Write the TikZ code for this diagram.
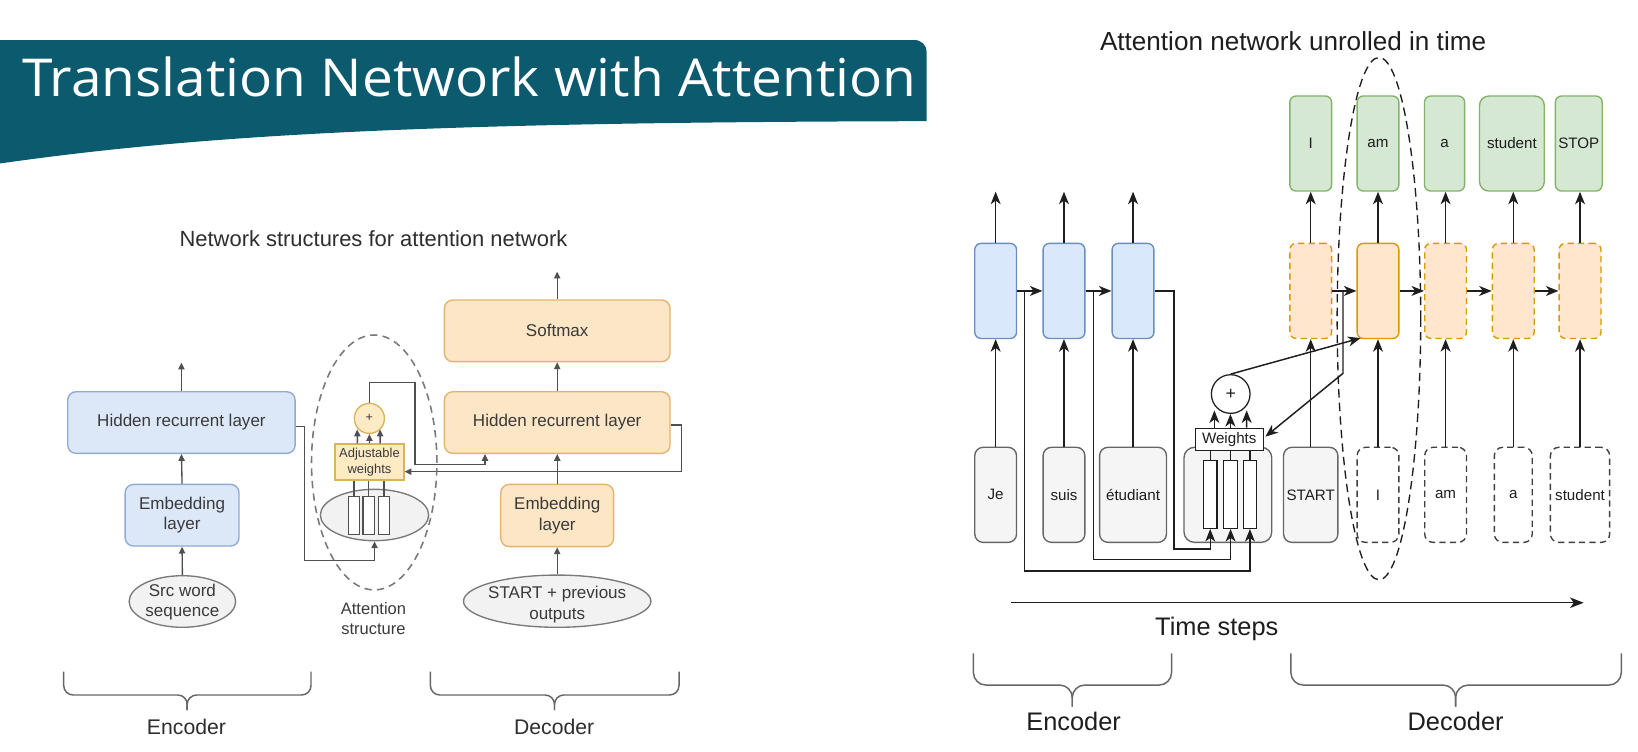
\documentclass[tikz,border=0pt]{standalone}
\usepackage{fontspec}
\usepackage{graphicx}
\setmainfont{Liberation Sans}
\newfontfamily\titlefont{Open Sans}
\usetikzlibrary{arrows.meta,shapes.geometric}
\definecolor{banner}{HTML}{0C5A6E}
\definecolor{ltext}{HTML}{3A3A3A}
\definecolor{lgray}{HTML}{505050}
\definecolor{rdark}{HTML}{1E1E1E}
\definecolor{lblueF}{HTML}{DCE8F8}
\definecolor{lblueD}{HTML}{90AAD2}
\definecolor{lorF}{HTML}{FCE6C6}
\definecolor{lorD}{HTML}{E2B46E}
\definecolor{ladjF}{HTML}{FDEBC4}
\definecolor{ladjD}{HTML}{D8B45E}
\definecolor{lellF}{HTML}{F2F2F2}
\definecolor{lellD}{HTML}{7A7A7A}
\definecolor{rblueF}{HTML}{DAE8FC}
\definecolor{rblueD}{HTML}{6C8EBF}
\definecolor{rorF}{HTML}{FFE6CC}
\definecolor{rorD}{HTML}{D79B00}
\definecolor{rgrF}{HTML}{D5E8D4}
\definecolor{rgrD}{HTML}{82B366}
\definecolor{rgrayF}{HTML}{F5F5F5}
\definecolor{rgrayD}{HTML}{666666}
\definecolor{bracecol}{HTML}{666666}
\newcommand{\lftfont}{\fontsize{16.3}{19.8}\selectfont}
\newcommand{\rgtfont}{\fontsize{14.5}{17}\selectfont}
\begin{document}
\begin{tikzpicture}[x=1pt,y=-1pt,
  lline/.style={draw=lgray, line width=1.3pt},
  larr/.style={lline, -{Triangle[length=6.5pt,width=6pt]}},
  rline/.style={draw=rdark, line width=1.4pt},
  rarr/.style={rline, -{Stealth[length=12pt,width=9.5pt,inset=3.5pt]}},
  lbox/.style={draw, rounded corners=8pt, line width=1.3pt, align=center, inner sep=0pt, text=ltext, font=\lftfont},
  lblue/.style={lbox, fill=lblueF, draw=lblueD},
  lorange/.style={lbox, fill=lorF, draw=lorD},
  lell/.style={ellipse, draw=lellD, fill=lellF, line width=1.3pt, inner sep=0pt},
  ltxt/.style={text=ltext, font=\lftfont, align=center, inner sep=0pt},
  lbrace/.style={draw=bracecol, line width=1.4pt, rounded corners=9pt},
  rbrace/.style={draw=bracecol, line width=1.4pt, rounded corners=12pt},
  rbox/.style={draw, rounded corners=6pt, line width=1.3pt, inner sep=0pt, minimum width=40pt, minimum height=91pt, text=rdark, font=\rgtfont},
  rblue/.style={rbox, fill=rblueF, draw=rblueD},
  rorange/.style={rbox, fill=rorF, draw=rorD},
  rorangedash/.style={rorange, dash pattern=on 6pt off 4pt},
  rgreen/.style={rbox, fill=rgrF, draw=rgrD},
  rinput/.style={rbox, rounded corners=8pt, fill=rgrayF, draw=rgrayD},
  rinputdash/.style={rbox, rounded corners=8pt, fill=white, draw=rdark!85, dash pattern=on 6pt off 4pt},
  rbar/.style={draw=rdark, fill=white, line width=1.2pt, minimum width=13pt, minimum height=64.8pt, inner sep=0pt},
  bigtxt/.style={text=rdark, font=\fontsize{24.3}{28}\selectfont, inner sep=0pt}
]
\useasboundingbox (0,0) rectangle (1568,719);
\fill[white] (0,0) rectangle (1568,719);

% ---------------- banner ----------------
\fill[banner] (0,38.3) -- (875,38.3) .. controls (882,38.3) and (887,43) .. (887,50)
  -- (887,116) .. controls (420,117) and (200,128) .. (0,156.5) -- cycle;
\node[anchor=base west, text=white, inner sep=0pt] (title) at (21,92.5)
  {\resizebox{856pt}{38pt}{\titlefont Translation Network with Attention}};

% ---------------- left diagram ----------------
\node[text=ltext!80!black, font=\fontsize{21}{25}\selectfont, anchor=base, inner sep=0pt] (ltitle) at (357.5,236.2) {Network structures for attention network};

% encoder
\node[lblue, minimum width=217.7pt, minimum height=59pt] (encH) at (173.7,404.5) {Hidden recurrent layer};
\node[lblue, minimum width=109pt, minimum height=59pt] (encE) at (174.3,493.2) {Embedding\\layer};
\node[lell, minimum width=102pt, minimum height=49.4pt] (encS) at (174.6,575.8) {};
\node[ltxt] (encSt) at (174.6,576.3) {Src word\\sequence};
\coordinate (encUp) at (173.7,347.2);
\draw[larr] (encS.north) -- (encE.south);
\draw[larr] (encE.north) -- (encH.south);
\draw[larr] (encH.north) -- (encUp);

% decoder
\node[lorange, minimum width=216pt, minimum height=59pt] (decS) at (533.4,316.7) {Softmax};
\node[lorange, minimum width=216pt, minimum height=59pt] (decH) at (533.4,404.5) {Hidden recurrent layer};
\node[lorange, minimum width=108pt, minimum height=59.6pt] (decE) at (533.4,493.5) {Embedding\\layer};
\node[lell, minimum width=179.4pt, minimum height=50pt] (decI) at (533.4,575.5) {};
\node[ltxt] (decIt) at (533.4,578.7) {START + previous\\outputs};
\coordinate (decUp) at (533.4,260);
\draw[larr] (decI.north) -- (decE.south);
\draw[larr] (decE.north) -- (decH.south);
\draw[larr] (decH.north) -- (decS.south);
\draw[larr] (decS.north) -- (decUp);

% attention structure
\node[lell, minimum width=103.7pt, minimum height=49.2pt] (attC) at (358.5,493) {};
\foreach \i/\x in {1/339,2/353,3/367.7}{
  \node[draw=lgray, fill=white, line width=1.1pt, minimum width=11pt, minimum height=36pt, inner sep=0pt] (lbar\i) at (\x,493.5) {};
}
\node[draw=ladjD, fill=ladjF, line width=1.3pt, minimum width=66pt, minimum height=34.5pt, inner sep=0pt, align=center, text=ltext, font=\fontsize{12.4}{15.3}\selectfont] (adj) at (353.7,442.3) {Adjustable\\weights};
\node[circle, draw=ladjD, fill=ladjF, line width=1.3pt, minimum size=28.8pt, inner sep=0pt, text=ltext, font=\fontsize{12}{14}\selectfont] (plus) at (353.6,400.5) {+};
\foreach \i in {1,2,3}{ \draw[lline] (lbar\i.north) -- (lbar\i.north |- adj.south); }
\draw[larr] ([xshift=-11.6pt]adj.north) -- ([xshift=-11.6pt,yshift=4.4pt]plus.south);
\draw[larr] (adj.north) -- (plus.south);
\draw[larr] ([xshift=10.2pt]adj.north) -- ([xshift=10.2pt,yshift=4.4pt]plus.south);

\coordinate (a1) at (291.3,408.5);
\coordinate (a2) at (291.3,536.7);
\coordinate (a3) at (358.5,536.7);
\draw[larr] ([yshift=-4pt]encH.east) -- (a1) -- (a2) -- (a3) -- (attC.south);

\coordinate (p1) at (353.6,366.3);
\coordinate (p2) at (397.3,366.3);
\coordinate (p3) at (397.3,444.5);
\coordinate (p4) at (464.3,444.5);
\draw[larr] (plus.north) -- (p1) -- (p2) -- (p3) -- (p4) -- (p4 |- decH.south);

\coordinate (q1) at (652.5,406.9);
\coordinate (q2) at (652.5,451.5);
\draw[larr] ([yshift=-2.4pt]decH.east) -- (q1) -- (q2) -- (q2 -| adj.east);

\node[draw=lellD, dash pattern=on 7pt off 5pt, line width=1.5pt, ellipse, minimum width=120pt, minimum height=244pt, inner sep=0pt] (attE) at (358.2,442.7) {};
\node[ltxt, font=\fontsize{15.8}{19}\selectfont] (attL) at (357.5,592) {Attention\\structure};

% left braces
\coordinate (lbE) at (179.2,679.7);
\draw[lbrace] (61,643) -- (61,665.3) -- (179.2,665.3) -- (lbE);
\draw[lbrace] (297.7,643) -- (297.7,665.3) -- (179.2,665.3) -- (lbE);
\node[text=ltext!80!black, font=\fontsize{20.3}{24}\selectfont, anchor=base, inner sep=0pt] (lEnc) at (178.5,702.7) {Encoder};
\coordinate (lbD) at (530.8,679.7);
\draw[lbrace] (412,643) -- (412,665.3) -- (530.8,665.3) -- (lbD);
\draw[lbrace] (650,643) -- (650,665.3) -- (530.8,665.3) -- (lbD);
\node[text=ltext!80!black, font=\fontsize{20.3}{24}\selectfont, anchor=base, inner sep=0pt] (lDec) at (530.5,702.7) {Decoder};

% ---------------- right diagram ----------------
\node[text=rdark, font=\fontsize{25}{29}\selectfont, anchor=base, inner sep=0pt] (rtitle) at (1237.8,47.9) {Attention network unrolled in time};

% encoder RNN boxes
\node[rblue] (eB1) at (953.1,278.5) {};
\node[rblue] (eB2) at (1018.5,278.5) {};
\node[rblue] (eB3) at (1084.6,278.5) {};
\coordinate (eU1) at (953.1,183.5);
\coordinate (eU2) at (1018.5,183.5);
\coordinate (eU3) at (1084.6,183.5);
\foreach \i in {1,2,3}{ \draw[rarr] (eB\i.north) -- (eU\i); }
\draw[rarr] (eB1.east) -- (eB2.west);
\draw[rarr] (eB2.east) -- (eB3.west);

% decoder RNN boxes
\node[rorangedash] (dB1) at (1254.7,278.5) {};
\node[rorange] (dB2) at (1319.1,278.5) {};
\node[rorangedash] (dB3) at (1383.8,278.5) {};
\node[rorangedash] (dB4) at (1448.6,278.5) {};
\node[rorangedash] (dB5) at (1512.5,278.5) {};
\draw[rarr] (dB1.east) -- (dB2.west);
\draw[rarr] (dB2.east) -- (dB3.west);
\draw[rarr] (dB3.east) -- (dB4.west);
\draw[rarr] (dB4.east) -- (dB5.west);

% outputs
\node[rgreen] (o1) at (1254.7,137.4) {I};
\node[rgreen] (o2) at (1319.1,137.4) {am};
\node[rgreen, minimum width=38.4pt] (o3) at (1382.8,137.4) {a};
\node[rgreen, minimum width=62pt, rounded corners=9pt] (o4) at (1447.3,137.4) {student};
\node[rgreen, minimum width=44.8pt] (o5) at (1511.3,137.4) {STOP};
\draw[rarr] (dB1.north) -- (o1.south);
\draw[rarr] (dB2.north) -- (o2.south);
\draw[rarr] (dB3.north) -- (dB3.north |- o3.south);
\draw[rarr] (dB4.north) -- (dB4.north |- o4.south);
\draw[rarr] (dB5.north) -- (dB5.north |- o5.south);

% inputs
\node[rinput] (iJe) at (953.1,473.7) {Je};
\node[rinput] (iSuis) at (1018.5,473.7) {suis};
\node[rinput, minimum width=64pt] (iEtu) at (1084.6,473.7) {étudiant};
\node[rinput, minimum width=84pt, rounded corners=10pt] (cW) at (1175.4,473.7) {};
\node[rinput, minimum width=52pt] (iStart) at (1254.7,473.7) {START};
\node[rinputdash] (iI) at (1319.1,473.7) {I};
\node[rinputdash] (iAm) at (1383.8,473.7) {am};
\node[rinputdash, minimum width=36.3pt] (iA) at (1448.6,473.7) {a};
\node[rinputdash, minimum width=56.7pt] (iStud) at (1512.5,473.7) {student};
\draw[rarr] (iJe.north) -- (eB1.south);
\draw[rarr] (iSuis.north) -- (eB2.south);
\draw[rarr] (iEtu.north) -- (eB3.south);
\draw[rarr] (iStart.north) -- (dB1.south);
\draw[rarr] (iI.north) -- (dB2.south);
\draw[rarr] (iAm.north) -- (dB3.south);
\draw[rarr] (iA.north) -- (dB4.south);
\draw[rarr] (iStud.north) -- (dB5.south);

% weights structure
\node[rbar] (bar1) at (1158.5,473.4) {};
\node[rbar] (bar2) at (1178,473.4) {};
\node[rbar] (bar3) at (1196.5,473.4) {};
\node[draw=rdark, fill=white, line width=1.2pt, minimum width=65pt, minimum height=21pt, inner sep=0pt, text=rdark, font=\rgtfont] (wB) at (1176.7,420.4) {Weights};
\node[circle, draw=rdark, fill=white, line width=1.2pt, minimum size=37pt, inner sep=0pt, text=rdark, font=\fontsize{17}{20}\selectfont] (pR) at (1178.1,377.2) {+};
\foreach \i in {1,2,3}{ \draw[rline] (bar\i.north) -- (bar\i.north |- wB.south); }
\draw[rarr] ([xshift=-14.2pt]wB.north) -- ([xshift=-15.6pt,yshift=3.4pt]pR.south);
\draw[rarr] ([xshift=1.1pt]wB.north) -- ([xshift=-0.3pt]pR.south);
\draw[rarr] ([xshift=16.7pt]wB.north) -- ([xshift=15.3pt,yshift=3.4pt]pR.south);

% routes from encoder states to the bars
\coordinate (br1) at (980.8,278.5);
\coordinate (br2) at (1046.9,278.5);
\coordinate (c3a) at (1123.6,278.5);
\coordinate (c1b) at (1196.5,546.6);
\coordinate (c2b) at (1178,535.4);
\coordinate (c3b) at (1158.5,525.6);
\draw[rarr] (eB3.east) -- (c3a) |- (c3b) -- (bar1.south);
\draw[rarr] (br2) |- (c2b) -- (bar2.south);
\draw[rarr] (br1) |- (c1b) -- (bar3.south);

% decoder state to weights, context to decoder
\coordinate (brD) at (1285.6,278.5);
\coordinate (brD2) at (1285.6,357.4);
\draw[rarr] (brD) -- (brD2) -- ([xshift=1.5pt,yshift=2.4pt]wB.east);
\draw[rarr] (pR.north) -- ([xshift=4pt,yshift=1pt]dB2.south west);

% dashed ellipse around current step
\node[draw=rdark, dash pattern=on 8pt off 5pt, line width=1.3pt, ellipse, minimum width=80pt, minimum height=500pt, inner sep=0pt] (stepE) at (1320,305) {};

% time axis
\coordinate (tA) at (968,577);
\coordinate (tB) at (1516,577);
\draw[rline, -{Stealth[length=13pt,width=10pt,inset=3.5pt]}] (tA) -- (tB);
\node[bigtxt, anchor=base] (tL) at (1164.8,607.9) {Time steps};

% right braces
\coordinate (rbE) at (1026.4,676.5);
\draw[rbrace] (931.8,625.4) -- (931.8,655.8) -- (1026.4,655.8) -- (rbE);
\draw[rbrace] (1121.5,625.4) -- (1121.5,655.8) -- (1026.4,655.8) -- (rbE);
\node[bigtxt, anchor=base] (rEnc) at (1027.7,698.8) {Encoder};
\coordinate (rbD) at (1393.4,676.5);
\draw[rbrace] (1235.7,625.4) -- (1235.7,655.8) -- (1393.4,655.8) -- (rbD);
\draw[rbrace] (1552,625.4) -- (1552,655.8) -- (1393.4,655.8) -- (rbD);
\node[bigtxt, anchor=base] (rDec) at (1393.4,698.8) {Decoder};
\end{tikzpicture}
\end{document}
